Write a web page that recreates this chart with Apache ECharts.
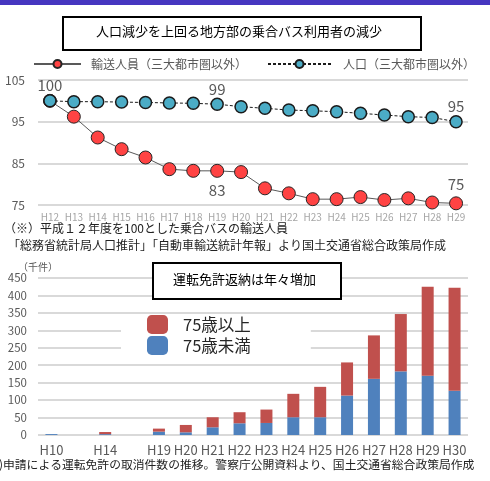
<!DOCTYPE html>
<html>
<head>
<meta charset="utf-8">
<script src="https://cdn.jsdelivr.net/npm/echarts@6/dist/echarts.min.js"></script>
<style>
html,body{margin:0;padding:0;background:#fff;}
#chart{width:490px;height:481px;}
</style>
</head>
<body>
<div id="chart"></div>
<script>
// ---- top chart data (index, H12 = 100) ----
var busYears = ['H12','H13','H14','H15','H16','H17','H18','H19','H20','H21','H22','H23','H24','H25','H26','H27','H28','H29'];
var ridership = [100, 96.2, 91.2, 88.4, 86.4, 83.6, 83.2, 83.2, 82.9, 79.0, 77.8, 76.4, 76.4, 76.9, 76.2, 76.6, 75.6, 75.4];
var population = [100, 99.8, 99.8, 99.7, 99.6, 99.5, 99.4, 99.2, 98.6, 98.2, 97.8, 97.6, 97.4, 97.0, 96.6, 96.2, 96.0, 95.0];
var ridershipLabels = { 7: 'bottom', 17: 'top' };
var populationLabels = { 0: 'top', 7: 'top', 17: 'top' };
var topTicks = [75, 85, 95, 105];

// ---- bottom chart data (thousand cases) ----
var licYears = ['H10','','H14','','H19','H20','H21','H22','H23','H24','H25','H26','H27','H28','H29','H30'];
var under75 = [2.6, null, 2.5, null, 9.6, 7.7, 22.1, 33.6, 34.5, 50.9, 50.9, 113, 161, 182.4, 170, 127];
var over75 = [0, null, 6, null, 8.7, 21.1, 28.8, 31.7, 38.4, 67.1, 87.1, 95, 124.5, 164.3, 255, 295];
var bottomTicks = [0, 50, 100, 150, 200, 250, 300, 350, 400, 450];

var nameRide = '輸送人員（三大都市圏以外）';
var namePop = '人口（三大都市圏以外）';
var nameOver = '75歳以上';
var nameUnder = '75歳未満';

function withLabels(arr, map) {
  return arr.map(function (v, i) {
    if (map[i]) {
      return { value: v, label: { show: true, position: map[i] } };
    }
    return v;
  });
}

var FONT = '"Noto Sans CJK JP", "Noto Sans", sans-serif';
var chart = echarts.init(document.getElementById('chart'), null, { renderer: 'canvas' });

var option = {
  animation: false,
  backgroundColor: '#ffffff',
  textStyle: { fontFamily: FONT },
  grid: [
    { left: 38, right: 22, top: 80, height: 125 },
    { left: 38, right: 22, top: 278, height: 157 }
  ],
  legend: [
    {
      data: [nameRide], left: 33, top: 58, padding: 0,
      itemWidth: 47, itemHeight: 10,
      textStyle: { color: '#595959', fontSize: 12, padding: [0, 0, 0, 5], fontFamily: FONT }
    },
    {
      data: [namePop], left: 267, top: 58, padding: 0,
      itemWidth: 63, itemHeight: 10,
      textStyle: { color: '#595959', fontSize: 12, padding: [0, 0, 0, 7], fontFamily: FONT }
    },
    {
      data: [nameOver, nameUnder], orient: 'vertical', left: 121, top: 314,
      padding: [1, 60, 5, 26], itemGap: 2,
      itemWidth: 21, itemHeight: 19,
      backgroundColor: '#ffffff',
      textStyle: { color: '#262626', fontSize: 16.5, padding: [0, 0, 0, 10], fontFamily: FONT }
    }
  ],
  xAxis: [
    {
      gridIndex: 0, type: 'category', data: busYears, boundaryGap: true,
      axisLine: { show: false }, axisTick: { show: false },
      axisLabel: { color: '#a6a6a6', fontSize: 10, margin: 7, interval: 0, fontFamily: FONT }
    },
    {
      gridIndex: 1, type: 'category', data: licYears, boundaryGap: true,
      axisLine: { show: false }, axisTick: { show: false },
      axisLabel: { color: '#595959', fontSize: 13, margin: 9, interval: 0, fontFamily: FONT }
    }
  ],
  yAxis: [
    {
      gridIndex: 0, type: 'value', min: topTicks[0], max: topTicks[topTicks.length - 1], interval: 10,
      axisLine: { show: false }, axisTick: { show: false },
      axisLabel: { color: '#595959', fontSize: 12, margin: 13, fontFamily: FONT },
      splitLine: { lineStyle: { color: '#d9d9d9', width: 2 } }
    },
    {
      gridIndex: 1, type: 'value', min: bottomTicks[0], max: bottomTicks[bottomTicks.length - 1], interval: 50,
      name: '（千件）', nameLocation: 'end', nameGap: 5,
      nameTextStyle: { color: '#595959', fontSize: 10, align: 'left', padding: [0, 0, 0, -20], fontFamily: FONT },
      axisLine: { show: false }, axisTick: { show: false },
      axisLabel: { color: '#595959', fontSize: 11.5, margin: 11, fontFamily: FONT },
      splitLine: { lineStyle: { color: '#d9d9d9', width: 2 } }
    }
  ],
  series: [
    {
      name: nameRide, type: 'line', xAxisIndex: 0, yAxisIndex: 0,
      data: withLabels(ridership, ridershipLabels),
      symbol: 'circle', symbolSize: 13,
      lineStyle: { color: '#595959', width: 1 },
      itemStyle: { color: '#ff4343', borderColor: '#262626', borderWidth: 1 },
      label: { show: false, color: '#595959', fontSize: 15, distance: 5, fontFamily: FONT,
        formatter: function (p) { return Math.round(p.value); } },
      z: 2
    },
    {
      name: namePop, type: 'line', xAxisIndex: 0, yAxisIndex: 0,
      data: withLabels(population, populationLabels),
      symbol: 'circle', symbolSize: 12,
      lineStyle: { color: '#1a1a1a', width: 1, type: [3, 2] },
      itemStyle: { color: '#4bacc6', borderColor: '#1a1a1a', borderWidth: 1.5 },
      label: { show: false, color: '#595959', fontSize: 15, distance: 1, fontFamily: FONT,
        formatter: function (p) { return Math.round(p.value); } },
      z: 3
    },
    {
      name: nameUnder, type: 'bar', stack: 'lic', xAxisIndex: 1, yAxisIndex: 1,
      data: under75, barWidth: 12,
      itemStyle: { color: '#4f81bd' }
    },
    {
      name: nameOver, type: 'bar', stack: 'lic', xAxisIndex: 1, yAxisIndex: 1,
      data: over75, barWidth: 12,
      itemStyle: { color: '#c0504d' }
    }
  ],
  graphic: [
    { type: 'rect', z: 100, left: 0, top: 0, shape: { width: 490, height: 5 }, style: { fill: '#4636c0' } },
    { type: 'rect', z: 100, left: 62, top: 16, shape: { width: 358, height: 33 },
      style: { fill: '#fff', stroke: '#000', lineWidth: 2 } },
    { type: 'text', z: 101, left: 96, top: 25, style: { text: '人口減少を上回る地方部の乗合バス利用者の減少',
      font: '13px ' + FONT, fill: '#000' } },
    { type: 'text', z: 100, left: 4, top: 222, style: { text: '（※）平成１２年度を100とした乗合バスの輸送人員',
      font: '12px ' + FONT, fill: '#222' } },
    { type: 'text', z: 100, left: 8, top: 239, style: { text: '「総務省統計局人口推計」「自動車輸送統計年報」より国土交通省総合政策局作成',
      font: '12px ' + FONT, fill: '#222' } },
    { type: 'rect', z: 100, left: 152, top: 262, shape: { width: 188, height: 36 },
      style: { fill: '#fff', stroke: '#000', lineWidth: 2 } },
    { type: 'text', z: 101, left: 173, top: 273, style: { text: '運転免許返納は年々増加',
      font: '13px ' + FONT, fill: '#000' } },
    { type: 'text', z: 100, left: -1, top: 459, style: { text: ')申請による運転免許の取消件数の推移。警察庁公開資料より、国土交通省総合政策局作成',
      font: '11.8px ' + FONT, fill: '#222' } }
  ]
};
chart.setOption(option);
</script>
</body>
</html>
